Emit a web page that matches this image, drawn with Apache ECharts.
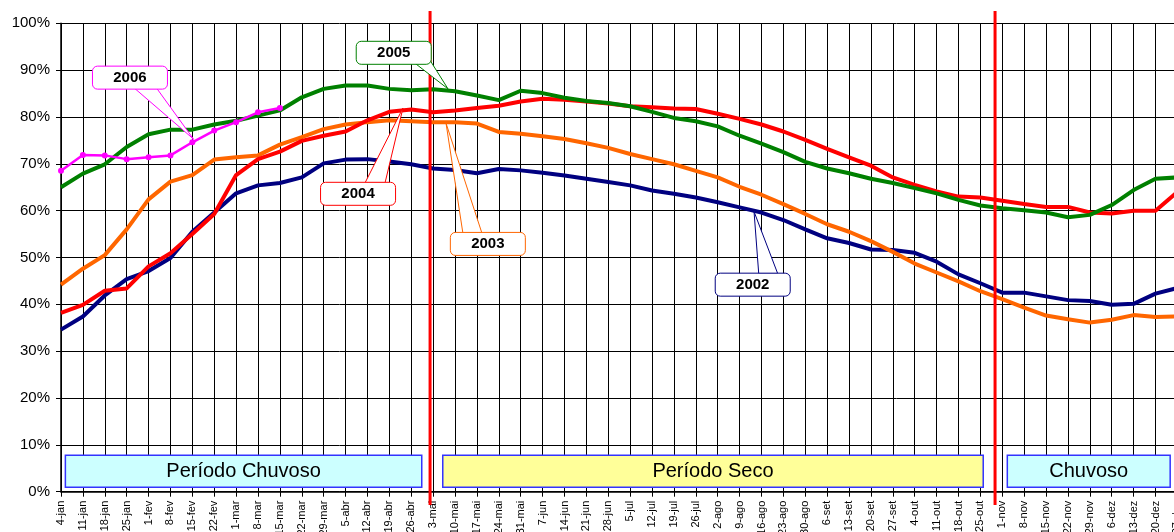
<!DOCTYPE html>
<html>
<head>
<meta charset="utf-8">
<script src="https://cdn.jsdelivr.net/npm/echarts@6/dist/echarts.min.js"></script>
<style>
  html, body { margin: 0; padding: 0; background: #ffffff; }
  #chart { width: 1174px; height: 532px; }
</style>
</head>
<body>
<div id="chart"></div>
<script>
// Weekly categories (day-month)
const weeks = [
  '4-jan','11-jan','18-jan','25-jan','1-fev','8-fev','15-fev','22-fev',
  '1-mar','8-mar','15-mar','22-mar','29-mar','5-abr','12-abr','19-abr','26-abr',
  '3-mai','10-mai','17-mai','24-mai','31-mai','7-jun','14-jun','21-jun','28-jun',
  '5-jul','12-jul','19-jul','26-jul','2-ago','9-ago','16-ago','23-ago','30-ago',
  '6-set','13-set','20-set','27-set','4-out','11-out','18-out','25-out',
  '1-nov','8-nov','15-nov','22-nov','29-nov','6-dez','13-dez','20-dez','27-dez'
];

// Stored volume (% of capacity) per year
const s2002 = [34.6,37.4,41.9,45.4,47.1,49.9,55.5,59.6,63.7,65.4,65.9,67.1,70.1,70.9,71.0,70.5,69.9,69.0,68.7,68.0,68.9,68.6,68.1,67.5,66.8,66.1,65.4,64.3,63.6,62.8,61.8,60.7,59.6,58.0,56.0,54.1,53.1,51.7,51.6,51.0,49.1,46.4,44.5,42.5,42.5,41.7,40.9,40.7,39.9,40.1,42.3,43.5];
const s2003 = [44.2,47.6,50.5,56.0,62.4,66.2,67.6,70.9,71.4,71.8,74.1,75.7,77.4,78.4,78.9,79.3,79.1,78.9,78.9,78.6,76.8,76.4,75.9,75.3,74.4,73.4,72.1,71.0,69.9,68.5,67.1,65.1,63.4,61.4,59.3,57.1,55.5,53.5,51.2,48.7,46.8,44.9,42.8,41.1,39.3,37.6,36.8,36.1,36.7,37.7,37.3,37.4];
const s2004 = [38.2,39.9,42.9,43.4,48.1,50.9,55.0,59.3,67.6,71.0,72.6,74.9,76.0,76.9,79.3,81.1,81.6,81.0,81.4,81.9,82.4,83.3,83.9,83.7,83.3,82.9,82.3,82.1,81.8,81.7,80.7,79.6,78.4,76.9,75.1,73.2,71.4,69.6,67.1,65.5,64.1,63.0,62.8,62.1,61.4,60.8,60.8,59.6,59.4,60.0,60.0,64.0];
const s2005 = [65.0,67.9,69.9,73.6,76.3,77.3,77.3,78.4,79.2,80.3,81.4,84.2,86.0,86.7,86.7,86.0,85.7,85.9,85.5,84.6,83.6,85.6,85.1,84.1,83.4,83.0,82.3,81.1,79.8,79.1,78.0,76.0,74.3,72.5,70.4,69.0,68.0,66.8,65.9,64.8,63.7,62.3,61.1,60.5,60.1,59.6,58.6,59.1,61.2,64.4,66.8,67.1];
const s2006 = [68.5,71.9,71.8,71.0,71.4,71.8,74.6,77.1,78.9,81.0,81.9];

// Season bands along the bottom (week-index range, % range)
const periodNames = ['Período Chuvoso', 'Período Seco', 'Chuvoso'];
const periodFrom  = [0.2, 17.44, 43.23];
const periodTo    = [16.48, 42.13, 50.67];
const periodFill  = ['#CCFFFF', '#FFFF99', '#CCFFFF'];
const periodY     = [0.94, 7.8];

// Season boundaries (week index) and their vertical extent (%)
const dividers = [16.86, 42.67];
const dividerY = [-2.85, 102.6];

// Year callouts: box centre and pointer tip in (week index, %)
const calloutYears  = ['2006', '2005', '2004', '2003', '2002'];
const calloutColors = ['#FF00FF', '#008000', '#FF0000', '#FF6600', '#000080'];
const calloutBox    = [[3.15, 88.4], [15.2, 93.7], [13.57, 63.6], [19.5, 52.9], [31.6, 44.2]];
const calloutTip    = [[6.05, 75.3], [17.68, 86.0], [15.62, 81.9], [17.59, 78.65], [31.66, 59.8]];
// pointer base points, offset in px from the box centre
const calloutBase   = [
  [[5, 11], [27, 11]],
  [[22, 11], [36, 7]],
  [[7, -11], [27, -11]],
  [[-25, -11], [-6, -11]],
  [[6, -11], [25, -11]]
];

const FONT = 'Liberation Sans, Arial, sans-serif';

const chart = echarts.init(document.getElementById('chart'), null, { renderer: 'canvas' });

function yearSeries(name, data, color, width, withDots) {
  return {
    name: name,
    type: 'line',
    xAxisIndex: 0,
    yAxisIndex: 0,
    data: data,
    smooth: false,
    showSymbol: !!withDots,
    symbol: 'circle',
    symbolSize: withDots ? 6 : 0,
    lineStyle: { color: color, width: width },
    itemStyle: { color: color },
    emphasis: { disabled: true },
    z: 3
  };
}

const bandData = periodNames.map((n, i) => [
  {
    name: n,
    xAxis: periodFrom[i],
    yAxis: periodY[0],
    itemStyle: { color: periodFill[i], borderColor: '#3333FF', borderWidth: 1.5, opacity: 1 }
  },
  { xAxis: periodTo[i], yAxis: periodY[1] }
]);

chart.setOption({
  animation: false,
  backgroundColor: '#ffffff',
  grid: {
    left: 61, right: -3.4, top: 23.3, bottom: 40.3,
    containLabel: false, outerBoundsMode: 'none'
  },
  xAxis: [
    {
      type: 'category',
      data: weeks,
      boundaryGap: false,
      axisLine: { show: true, lineStyle: { color: '#000', width: 1.5 } },
      axisTick: { show: true, interval: 0, length: 5, lineStyle: { color: '#000' } },
      axisLabel: {
        interval: 0, rotate: 90, margin: 9,
        fontSize: 11, fontFamily: FONT, color: '#000', hideOverlap: false
      },
      splitLine: { show: true, interval: 0, lineStyle: { color: '#000', width: 1 } }
    },
    {
      type: 'value', min: 0, max: weeks.length - 1, show: false,
      splitLine: { show: false }
    }
  ],
  yAxis: [{
    type: 'value',
    min: 0, max: 100, interval: 10,
    axisLine: { show: true, lineStyle: { color: '#000', width: 1.5 } },
    axisTick: { show: true, length: 5, lineStyle: { color: '#000' } },
    axisLabel: { formatter: '{value}%', fontSize: 15, fontFamily: FONT, color: '#000', margin: 11 },
    splitLine: { show: true, lineStyle: { color: '#000', width: 1 } }
  }],
  series: [
    yearSeries('2002', s2002, '#000080', 4),
    yearSeries('2003', s2003, '#FF6600', 4),
    yearSeries('2004', s2004, '#FF0000', 4),
    yearSeries('2005', s2005, '#008000', 4),
    yearSeries('2006', s2006, '#FF00FF', 2.5, true),
    {
      name: 'periodos',
      type: 'line',
      xAxisIndex: 1,
      yAxisIndex: 0,
      data: [],
      z: 2,
      markArea: {
        silent: true,
        label: {
          show: true, position: 'inside',
          fontSize: 20, fontFamily: FONT, color: '#000'
        },
        data: bandData
      }
    }
  ]
});

// Annotations placed from data coordinates
const finder = { xAxisIndex: 1, yAxisIndex: 0 };
const toPx = (p) => chart.convertToPixel(finder, p);
const graphics = [];

dividers.forEach((x) => {
  const a = toPx([x, dividerY[0]]);
  const b = toPx([x, dividerY[1]]);
  graphics.push({
    type: 'line', z: 50, silent: true,
    shape: { x1: a[0], y1: a[1], x2: b[0], y2: b[1] },
    style: { stroke: '#FF0000', lineWidth: 3 }
  });
});

const BOX_W = 75, BOX_H = 23;
calloutYears.forEach((yr, i) => {
  const c = toPx(calloutBox[i]);
  const t = toPx(calloutTip[i]);
  const col = calloutColors[i];
  const b1 = [c[0] + calloutBase[i][0][0], c[1] + calloutBase[i][0][1]];
  const b2 = [c[0] + calloutBase[i][1][0], c[1] + calloutBase[i][1][1]];
  graphics.push({
    type: 'polygon', z: 60, silent: true,
    shape: { points: [b1, t, b2] },
    style: { fill: '#ffffff', stroke: col, lineWidth: 1 }
  });
  graphics.push({
    type: 'rect', z: 61, silent: true,
    shape: { x: c[0] - BOX_W / 2, y: c[1] - BOX_H / 2, width: BOX_W, height: BOX_H, r: 5 },
    style: { fill: '#ffffff', stroke: col, lineWidth: 1 }
  });
  graphics.push({
    type: 'text', z: 62, silent: true,
    x: c[0], y: c[1],
    style: {
      text: yr, fill: '#000', font: 'bold 15px ' + FONT,
      textAlign: 'center', textVerticalAlign: 'middle'
    }
  });
});

chart.setOption({ graphic: graphics });
</script>
</body>
</html>
